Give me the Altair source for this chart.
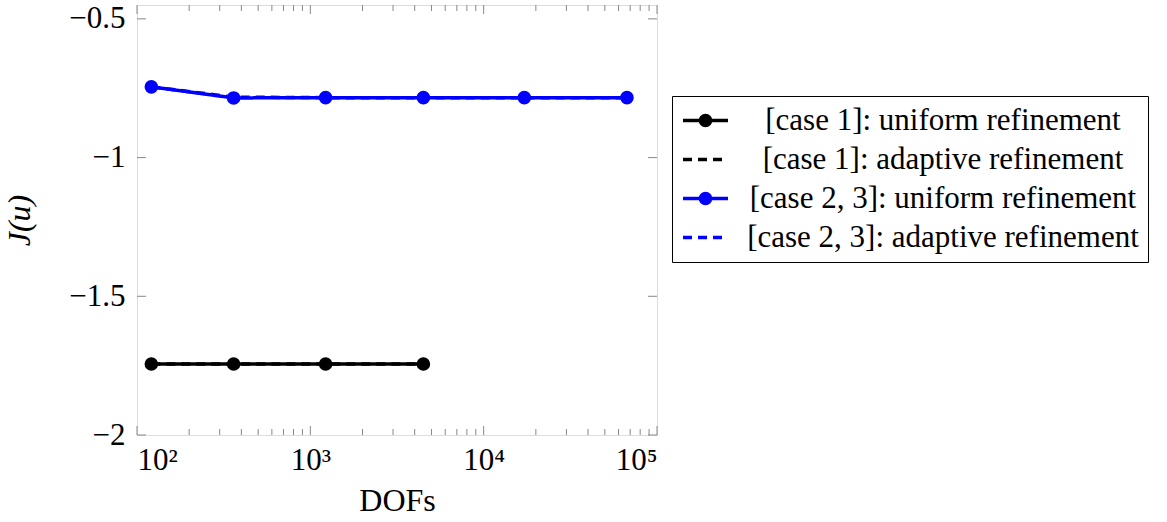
import altair as alt
import pandas as pd

# ---- data ----
series_names = [
    "[case 1]: uniform refinement",
    "[case 1]: adaptive refinement",
    "[case 2, 3]: uniform refinement",
    "[case 2, 3]: adaptive refinement",
]
marker_keys = ["u1", "a1", "u23", "a23"]
series_colors = ["black", "black", "blue", "blue"]
marker_fill = ["black", "transparent", "blue", "transparent"]
series_dash = [[1, 0], [9, 6], [1, 0], [9, 6]]

dofs_case1 = [121, 361, 1225, 4489]
j_case1_uniform = [-1.744, -1.744, -1.744, -1.744]
j_case1_adaptive = [-1.744, -1.744, -1.744, -1.744]

dofs_case23 = [121, 361, 1225, 4489, 17161, 67081]
j_case23_uniform = [-0.745, -0.785, -0.784, -0.784, -0.784, -0.784]
j_case23_adaptive = [-0.745, -0.782, -0.784, -0.784, -0.784, -0.784]

x_major = [100, 1000, 10000, 100000]
x_minor = [200, 300, 400, 500, 600, 700, 800, 900,
           2000, 3000, 4000, 5000, 6000, 7000, 8000, 9000,
           20000, 30000, 40000, 50000, 60000, 70000, 80000, 90000]
y_major = [-2, -1.5, -1, -0.5]

# ---- tables ----
rows = []
for name, key, xs, ys in [
    (series_names[0], marker_keys[0], dofs_case1, j_case1_uniform),
    (series_names[1], marker_keys[1], dofs_case1, j_case1_adaptive),
    (series_names[2], marker_keys[2], dofs_case23, j_case23_uniform),
    (series_names[3], marker_keys[3], dofs_case23, j_case23_adaptive),
]:
    for x, y in zip(xs, ys):
        rows.append({"series": name, "marker": key, "dofs": x, "J": y})
df = pd.DataFrame(rows)
df_pts = df[df["series"].str.contains("uniform")]

W, H = 520, 430
FONT = "Liberation Serif, Times New Roman, DejaVu Serif, serif"
LX, LY = 535, 91

xscale = alt.Scale(type="log", domain=[100, 100000], nice=False)
yscale = alt.Scale(domain=[-2, -0.45], nice=False, zero=False)

LINE_PATH = "M-2,0H2"
CIRCLE_PATH = "M-0.6,0A0.6,0.6 0 1,0 0.6,0A0.6,0.6 0 1,0 -0.6,0Z"

common_legend = dict(
    title=None, orient="none", legendX=LX, legendY=LY, padding=9, cornerRadius=0,
    labelFont=FONT, labelFontSize=31, labelColor="black",
    labelAlign="center", labelOffset=222, rowPadding=7, labelLimit=600,
    symbolSize=506, symbolStrokeWidth=3.5, symbolOffset=9,
)
legend_lines = alt.Legend(
    strokeColor="black", fillColor="white",
    symbolType=LINE_PATH, zindex=1,
    **common_legend,
)
legend_marks = alt.Legend(
    labelExpr="''",
    symbolType=CIRCLE_PATH, symbolStrokeColor="transparent", zindex=2,
    **common_legend,
)

x_axis = alt.Axis(
    values=x_major,
    labelExpr="'10' + (datum.value == 100 ? '²' : datum.value == 1000 ? '³' : datum.value == 10000 ? '⁴' : '⁵')",
    ticks=False, domain=False, grid=False,
    labelFont=FONT, labelFontSize=31, labelColor="black", labelPadding=10,
    title="DOFs", titleFont=FONT, titleFontSize=32, titleFontWeight="normal",
    titleColor="black", titlePadding=10,
)
y_axis = alt.Axis(
    values=y_major,
    labelExpr="replace(format(datum.value, '.1~f'), '-', '\u2212')",
    ticks=False, domain=False, grid=False,
    labelFont=FONT, labelFontSize=31, labelColor="black", labelPadding=12,
    title="J(u)", titleFont=FONT, titleFontSize=32, titleFontWeight="normal",
    titleFontStyle="italic", titleColor="black", titlePadding=32,
)

lines = alt.Chart(df).mark_line(strokeWidth=3.5).encode(
    x=alt.X("dofs:Q", scale=xscale, axis=x_axis),
    y=alt.Y("J:Q", scale=yscale, axis=y_axis),
    color=alt.Color("series:N", scale=alt.Scale(domain=series_names, range=series_colors), legend=legend_lines),
    strokeDash=alt.StrokeDash("series:N", scale=alt.Scale(domain=series_names, range=series_dash), legend=legend_lines),
    order=alt.Order("dofs:Q"),
)

points = alt.Chart(df_pts).mark_point(size=185, filled=True, opacity=1, strokeWidth=0, shape="circle").encode(
    x=alt.X("dofs:Q", scale=xscale),
    y=alt.Y("J:Q", scale=yscale),
    fill=alt.Fill("marker:N", scale=alt.Scale(domain=marker_keys, range=marker_fill), legend=legend_marks),
)

tick_col = "#888888"
df_xmaj = pd.DataFrame({"t": x_major})
df_xmin = pd.DataFrame({"t": x_minor})
df_ymaj = pd.DataFrame({"t": y_major})

xt_major_b = alt.Chart(df_xmaj).mark_rule(color=tick_col, strokeWidth=1).encode(
    x=alt.X("t:Q", scale=xscale), y=alt.value(H), y2=alt.value(H - 9))
xt_major_t = alt.Chart(df_xmaj).mark_rule(color=tick_col, strokeWidth=1).encode(
    x=alt.X("t:Q", scale=xscale), y=alt.value(0), y2=alt.value(9))
xt_minor_b = alt.Chart(df_xmin).mark_rule(color=tick_col, strokeWidth=1).encode(
    x=alt.X("t:Q", scale=xscale), y=alt.value(H), y2=alt.value(H - 6))
xt_minor_t = alt.Chart(df_xmin).mark_rule(color=tick_col, strokeWidth=1).encode(
    x=alt.X("t:Q", scale=xscale), y=alt.value(0), y2=alt.value(6))
yt_l = alt.Chart(df_ymaj).mark_rule(color=tick_col, strokeWidth=1).encode(
    y=alt.Y("t:Q", scale=yscale), x=alt.value(0), x2=alt.value(9))
yt_r = alt.Chart(df_ymaj).mark_rule(color=tick_col, strokeWidth=1).encode(
    y=alt.Y("t:Q", scale=yscale), x=alt.value(W), x2=alt.value(W - 9))

chart = alt.layer(
    xt_major_b, xt_major_t, xt_minor_b, xt_minor_t, yt_l, yt_r, lines, points
).properties(
    width=W, height=H,
    autosize=alt.AutoSizeParams(type="none"),
    padding={"left": 137, "top": 5, "right": 510, "bottom": 87},
).configure_view(
    stroke="black", strokeWidth=1.2
).configure(
    font=FONT, background="white"
)

chart.save("out.html", embed_options={"renderer": "svg", "actions": False})
